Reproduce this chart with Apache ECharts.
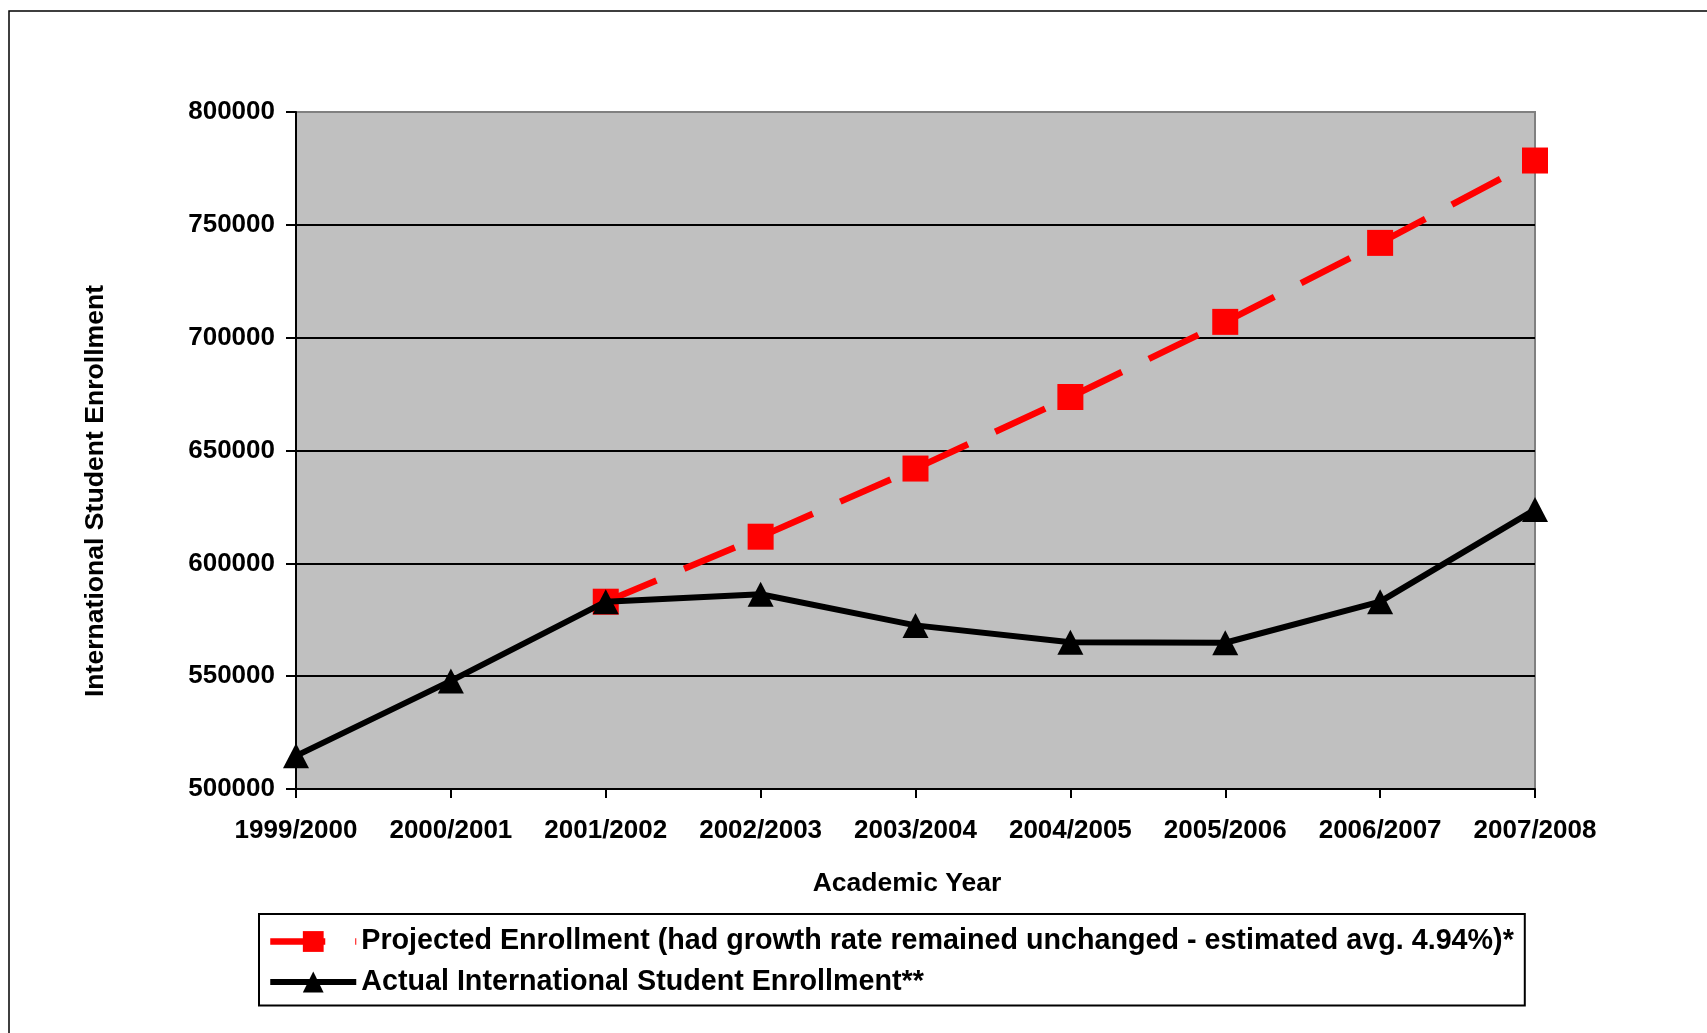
<!DOCTYPE html>
<html>
<head>
<meta charset="utf-8">
<script src="https://cdn.jsdelivr.net/npm/echarts@6/dist/echarts.min.js"></script>
<style>
html,body{margin:0;padding:0;background:#fff;}
#chart{width:1707px;height:1033px;}
</style>
</head>
<body>
<div id="chart"></div>
<script>
var categories = ['1999/2000','2000/2001','2001/2002','2002/2003','2003/2004','2004/2005','2005/2006','2006/2007','2007/2008'];
var projected = [null, null, 583000, 611800, 642000, 673700, 707000, 742000, 778500];
var actual = [514700, 547900, 583000, 586300, 572500, 565000, 564800, 583000, 623800];
var yTicks = { min: 500000, max: 800000, interval: 50000 };
var projectedName = 'Projected Enrollment (had growth rate remained unchanged - estimated avg. 4.94%)*';
var actualName = 'Actual International Student Enrollment**';
var xTitle = 'Academic Year';
var yTitle = 'International Student Enrollment';

var FONT = '"Liberation Sans", Arial, sans-serif';
var chart = echarts.init(document.getElementById('chart'), null, {renderer: 'canvas'});
chart.setOption({
  animation: false,
  backgroundColor: '#ffffff',
  grid: {
    left: 296, top: 112, width: 1239, height: 677,
    show: true, backgroundColor: '#C0C0C0', borderColor: '#808080', borderWidth: 2
  },
  graphic: [
    { type: 'rect', shape: {x: 9, y: 11, width: 1800, height: 1200}, style: {fill: 'none', stroke: '#000', lineWidth: 1.5}, silent: true, z: -10 },
    { type: 'text', x: 907, y: 884, style: { text: xTitle, font: 'bold 26.5px ' + FONT, fill: '#000', textAlign: 'center', textVerticalAlign: 'middle' } },
    { type: 'text', x: 96, y: 491, rotation: Math.PI / 2, style: { text: yTitle, font: 'bold 26.6px ' + FONT, fill: '#000', textAlign: 'center', textVerticalAlign: 'middle' } }
  ],
  legend: {
    left: 259, top: 914, orient: 'vertical',
    data: [
      { name: projectedName, lineStyle: { width: 6.5, type: [55, 30], color: '#FF0000' } },
      { name: actualName, lineStyle: { width: 6, color: '#000' } }
    ],
    itemWidth: 86, itemHeight: 26, itemGap: 11.5,
    padding: [13, 11, 9, 8],
    borderColor: '#000', borderWidth: 2, backgroundColor: '#fff',
    textStyle: { fontSize: 28.7, lineHeight: 26, fontWeight: 'bold', color: '#000', fontFamily: FONT }
  },
  xAxis: {
    type: 'category', data: categories, boundaryGap: false,
    axisLine: { lineStyle: { color: '#000', width: 2 } },
    axisTick: { show: true, length: 9, lineStyle: { color: '#000', width: 2 }, alignWithLabel: true },
    axisLabel: { margin: 29, fontSize: 26, fontWeight: 'bold', color: '#000', fontFamily: FONT, interval: 0 },
    splitLine: { show: false }
  },
  yAxis: {
    type: 'value', min: yTicks.min, max: yTicks.max, interval: yTicks.interval,
    axisLine: { show: true, lineStyle: { color: '#000', width: 2 } },
    axisTick: { show: true, length: 10, lineStyle: { color: '#000', width: 2 } },
    axisLabel: { margin: 21, fontSize: 26, fontWeight: 'bold', color: '#000', fontFamily: FONT,
      formatter: function (v) { return String(v); } },
    splitLine: { show: true, lineStyle: { color: ['#000','#000','#000','#000','#000','#000','#808080'], width: 2 } }
  },
  series: [
    {
      name: projectedName, type: 'line', data: projected,
      symbol: 'rect', symbolSize: 26, showSymbol: true,
      lineStyle: { color: '#FF0000', width: 6.5, type: [55, 30], cap: 'butt' },
      itemStyle: { color: '#FF0000' },
      z: 2
    },
    {
      name: actualName, type: 'line', data: actual,
      symbol: 'triangle', symbolSize: [26, 25], showSymbol: true,
      lineStyle: { color: '#000', width: 6 },
      itemStyle: { color: '#000' },
      z: 3
    }
  ]
});
</script>
</body>
</html>
